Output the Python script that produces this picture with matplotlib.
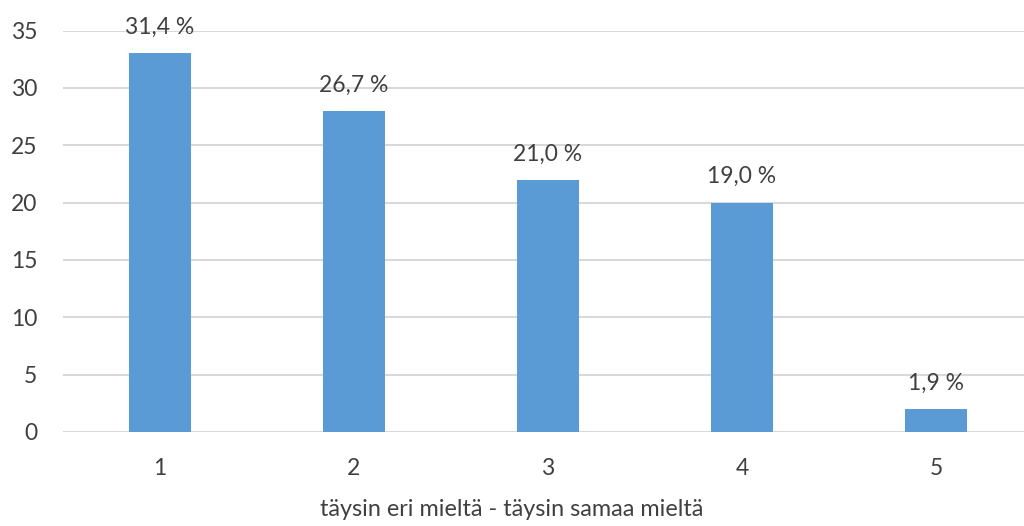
import matplotlib

matplotlib.use("Agg")

import matplotlib.pyplot as plt

categories = ["1", "2", "3", "4", "5"]
counts = [33, 28, 22, 20, 2]
pct_labels = ["31,4 %", "26,7 %", "21,0 %", "19,0 %", "1,9 %"]
yticks = [0, 5, 10, 15, 20, 25, 30, 35]
xlabel = "täysin eri mieltä - täysin samaa mieltä"

plt.rcParams["font.family"] = ["Lato", "DejaVu Sans"]
text_color = "#404040"

fig = plt.figure(figsize=(10.24, 5.26), dpi=100)
ax = fig.add_axes([63 / 1024, 94 / 526, 970 / 1024, 401.5 / 526])

x = list(range(len(categories)))
bars = ax.bar(x, counts, width=0.317, color="#5B9BD5", zorder=3)
for rect, lab in zip(bars, pct_labels):
    ax.annotate(lab, (rect.get_x() + rect.get_width() / 2, rect.get_height()),
                xytext=(0, 11), textcoords="offset points", ha="center", va="bottom",
                fontsize=16.5, color=text_color)

ax.set_xlim(-0.5, len(categories) - 0.5)
ax.set_ylim(0, 35)
ax.set_yticks(yticks)
ax.set_xticks(x)
ax.set_xticklabels(categories)
ax.tick_params(axis="both", length=0, labelsize=16.5, labelcolor=text_color)
ax.tick_params(axis="y", pad=18.5)
ax.tick_params(axis="x", pad=19)
ax.grid(axis="y", color="#D9D9D9", linewidth=1.5, zorder=0)
for s in ax.spines.values():
    s.set_visible(False)
ax.set_xlabel(xlabel, fontsize=16.8, color=text_color)
ax.xaxis.set_label_coords((512 - 63) / 970, -67 / 401.5)

fig.savefig("out.png", dpi=100)
